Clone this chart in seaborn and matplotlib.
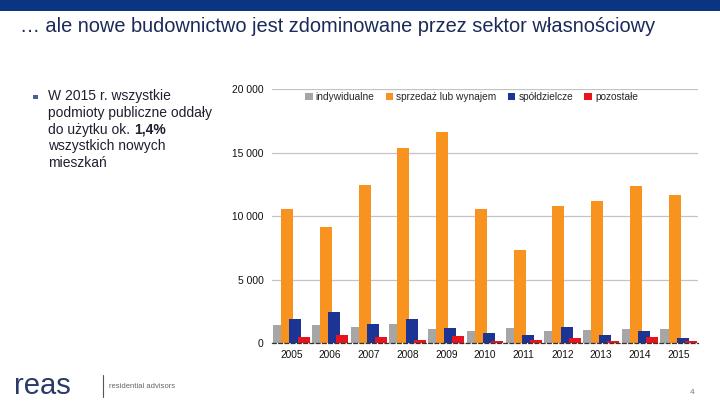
import matplotlib
matplotlib.use("Agg")
import matplotlib.pyplot as plt
from matplotlib.patches import Patch, Rectangle
from matplotlib.lines import Line2D
import seaborn as sns
import pandas as pd

years = ["2005", "2006", "2007", "2008", "2009", "2010", "2011", "2012", "2013", "2014", "2015"]
categories = ["indywidualne", "sprzedaż lub wynajem", "spółdzielcze", "pozostałe"]
indywidualne = [1450, 1450, 1300, 1520, 1130, 970, 1200, 970, 1050, 1130, 1130]
sprzedaz = [10600, 9150, 12450, 15400, 16650, 10580, 7350, 10800, 11200, 12400, 11700]
spoldzielcze = [1900, 2450, 1520, 1900, 1200, 800, 650, 1300, 650, 970, 430]
pozostale = [500, 650, 500, 270, 580, 200, 270, 430, 200, 500, 200]
yticks = [0, 5000, 10000, 15000, 20000]
ytick_labels = ["0", "5 000", "10 000", "15 000", "20 000"]
colors = ["#a6a6a6", "#f7931e", "#1c3595", "#e8141c"]

rows = []
for cat, vals in zip(categories, [indywidualne, sprzedaz, spoldzielcze, pozostale]):
    for y, v in zip(years, vals):
        rows.append({"rok": y, "kategoria": cat, "wartosc": v})
df = pd.DataFrame(rows)

sns.set_style("white")
plt.rcParams["font.family"] = ["Liberation Sans", "DejaVu Sans"]

fig = plt.figure(figsize=(7.2, 4.05), dpi=100)
ax = fig.add_axes([272 / 720, 1 - 343.3 / 405, 426 / 720, 254 / 405])

sns.barplot(data=df, x="rok", y="wartosc", hue="kategoria", order=years,
            hue_order=categories, palette=colors, width=0.84, errorbar=None,
            saturation=1, ax=ax, legend=False)

# overlap bars like the original (widen each around its centre)
for p in ax.patches:
    c = p.get_x() + p.get_width() / 2
    p.set_width(0.31)
    p.set_x(c - 0.155)
    p.set_linewidth(0)

ax.set_xlim(-0.5, len(years) - 0.5)
ax.set_ylim(0, 20000)
ax.set_yticks(yticks)
ax.set_yticklabels(ytick_labels)
ax.set_xlabel("")
ax.set_ylabel("")
ax.yaxis.grid(True, color="#c4c4c4", linewidth=0.9)
ax.set_axisbelow(True)
for s in ["top", "right", "left"]:
    ax.spines[s].set_visible(False)
ax.spines["bottom"].set_linestyle((0, (3, 2)))
ax.spines["bottom"].set_color("#333333")
ax.spines["bottom"].set_linewidth(0.9)
ax.tick_params(axis="y", length=0, pad=6, labelsize=7.4, labelcolor="#111111")
ax.tick_params(axis="x", which="major", length=0, pad=5, labelsize=7.3, labelcolor="#111111")
ax.set_xticks([i + 0.5 for i in range(-1, len(years))], minor=True)
ax.tick_params(axis="x", which="minor", length=3, width=0.8, color="#333333", direction="out")

handles = [Patch(facecolor=c, edgecolor="none") for c in colors]
fig.legend(handles, categories, loc="upper left", bbox_to_anchor=(302 / 720, 1 - 89 / 405),
           ncol=4, frameon=False, fontsize=7.3, handlelength=0.75, handleheight=0.75,
           handletextpad=0.3, columnspacing=1.1, borderaxespad=0, borderpad=0.3)

# header band and title
fig.add_artist(Rectangle((0, 1 - 11 / 405), 1, 11 / 405, transform=fig.transFigure,
                         facecolor="#0b3580", edgecolor="none"))
fig.text(20 / 720, 1 - 27 / 405, "… ale nowe budownictwo jest zdominowane przez sektor własnościowy",
         fontsize=14.4, color="#1b2a58", va="center", ha="left")

# left bullet text
fig.add_artist(Rectangle((33 / 720, 1 - 99 / 405), 4.5 / 720, 4.5 / 405,
                         transform=fig.transFigure, facecolor="#4a5f94", edgecolor="none"))
lines = ["W 2015 r. wszystkie", "podmioty publiczne oddały", "do użytku ok. ", "wszystkich nowych", "mieszkań"]
y0 = 96
for i, ln in enumerate(lines):
    t = fig.text(48 / 720, 1 - (y0 + i * 16.8) / 405, ln, fontsize=10, color="#1e2030",
                 va="center", ha="left")
    if i == 2:
        fig.canvas.draw()
        bb = t.get_window_extent()
        fig.text(bb.x1 / 720, 1 - (y0 + i * 16.8) / 405, "1,4%", fontsize=10,
                 color="#1e2030", va="center", ha="left", fontweight="bold")

# footer
fig.text(14 / 720, 1 - 386 / 405, "reas", fontsize=21, color="#2a3b68", va="center", ha="left")
fig.add_artist(Line2D([103 / 720, 103 / 720], [1 - 397 / 405, 1 - 375 / 405],
                      transform=fig.transFigure, color="#555555", linewidth=0.8))
fig.text(109 / 720, 1 - 386 / 405, "residential advisors", fontsize=5.5, color="#666666",
         va="center", ha="left")
fig.text(690 / 720, 1 - 393 / 405, "4", fontsize=6, color="#777777", va="center", ha="left")

fig.savefig("out.png", dpi=100)
